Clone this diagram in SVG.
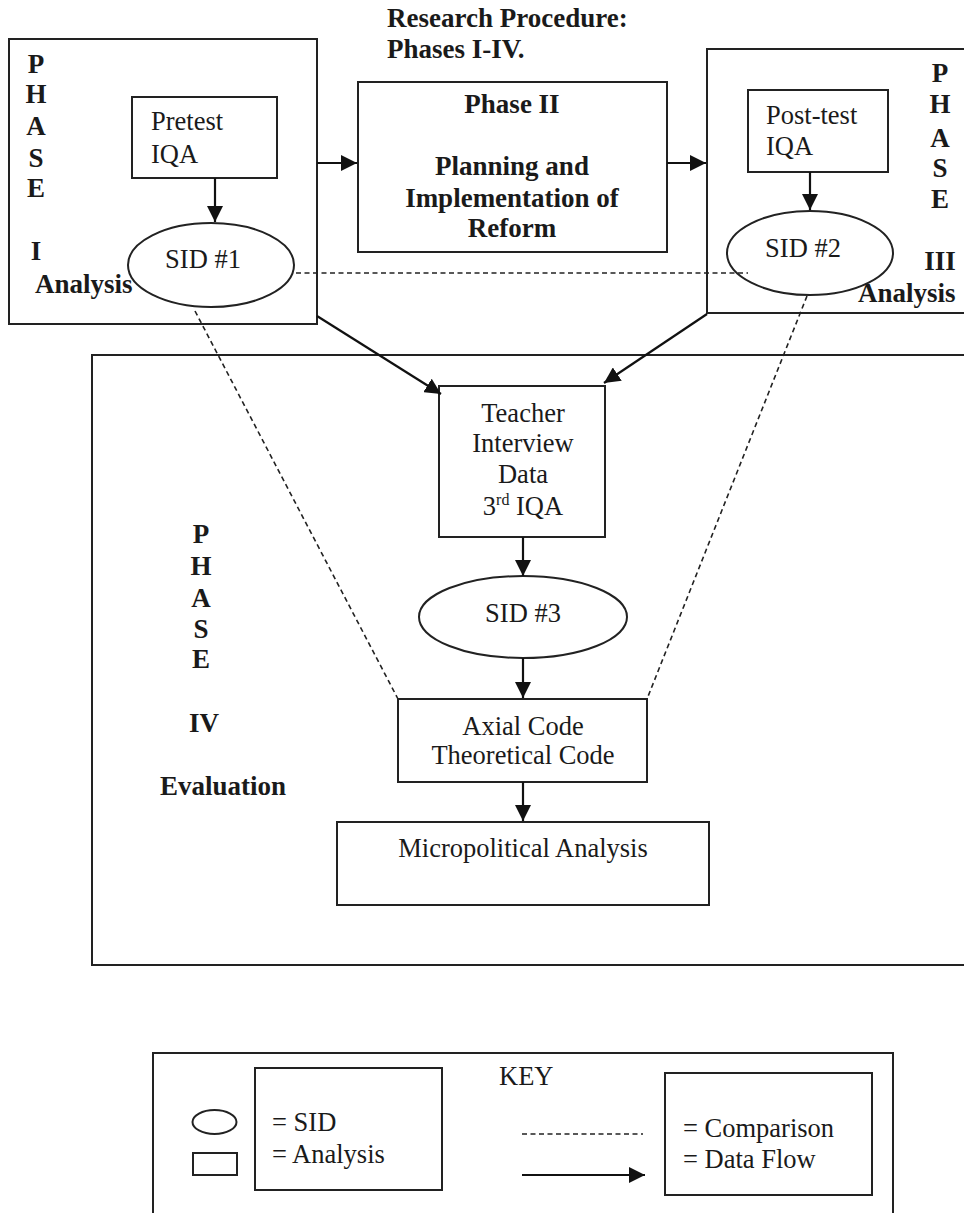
<svg xmlns="http://www.w3.org/2000/svg" width="964" height="1213" viewBox="0 0 964 1213">
<defs>
<marker id="ahb" viewBox="0 0 10 10" refX="10" refY="5" markerWidth="16" markerHeight="16" markerUnits="userSpaceOnUse" orient="auto">
<path d="M0,0 L10,5 L0,10 z" fill="#111"/>
</marker>
<style>
.box{fill:none;stroke:#222;stroke-width:2}
.t{font-family:"Liberation Serif","Times New Roman",serif;font-size:26.5px;fill:#1a1a1a}
.b{font-family:"Liberation Serif","Times New Roman",serif;font-size:27px;font-weight:bold;fill:#1a1a1a}
.m{text-anchor:middle}
.flow{fill:none;stroke:#111;stroke-width:2.2;marker-end:url(#ahb)}
.cmp{fill:none;stroke:#222;stroke-width:1.6;stroke-dasharray:5,3.5}
</style>
</defs>
<rect width="964" height="1213" fill="#fff"/>

<g id="title">
<text class="b" x="387" y="27">Research Procedure:</text>
<text class="b" x="387" y="58">Phases I-IV.</text>
</g>

<g id="phase1">
<rect class="box" x="9" y="39" width="308" height="285"/>
<text class="b m" x="36" y="73">P</text>
<text class="b m" x="36" y="103">H</text>
<text class="b m" x="36" y="135">A</text>
<text class="b m" x="36" y="167">S</text>
<text class="b m" x="36" y="197">E</text>
<text class="b m" x="36" y="260">I</text>
<text class="b" x="35" y="293">Analysis</text>
</g>

<g id="pretest">
<rect class="box" x="132" y="97" width="145" height="81"/>
<text class="t" x="151" y="130">Pretest</text>
<text class="t" x="151" y="163">IQA</text>
</g>

<g id="sid1">
<ellipse class="box" cx="211" cy="265" rx="83" ry="42" fill="#fff"/>
<text class="t m" x="203" y="268">SID #1</text>
</g>

<g id="phase2">
<rect class="box" x="358" y="82" width="309" height="170"/>
<text class="b m" x="512" y="113">Phase II</text>
<text class="b m" x="512" y="175">Planning and</text>
<text class="b m" x="512" y="207">Implementation of</text>
<text class="b m" x="512" y="237">Reform</text>
</g>

<g id="phase3">
<rect class="box" x="707" y="49" width="280" height="264"/>
<text class="b m" x="940" y="82">P</text>
<text class="b m" x="940" y="113">H</text>
<text class="b m" x="940" y="147">A</text>
<text class="b m" x="940" y="177">S</text>
<text class="b m" x="940" y="208">E</text>
<text class="b m" x="940" y="270">III</text>
<text class="b" x="858" y="302">Analysis</text>
</g>

<g id="posttest">
<rect class="box" x="748" y="90" width="140" height="82"/>
<text class="t" x="766" y="124">Post-test</text>
<text class="t" x="766" y="155">IQA</text>
</g>

<g id="sid2">
<ellipse class="box" cx="810" cy="253" rx="83" ry="42" fill="#fff"/>
<text class="t m" x="803" y="257">SID #2</text>
</g>

<g id="phase4">
<rect class="box" x="92" y="355" width="900" height="610"/>
<text class="b m" x="201" y="543">P</text>
<text class="b m" x="201" y="575">H</text>
<text class="b m" x="201" y="607">A</text>
<text class="b m" x="201" y="638">S</text>
<text class="b m" x="201" y="668">E</text>
<text class="b m" x="204" y="732">IV</text>
<text class="b" x="160" y="795">Evaluation</text>
</g>

<g id="teacher">
<rect class="box" x="439" y="386" width="166" height="151"/>
<text class="t m" x="523" y="422">Teacher</text>
<text class="t m" x="523" y="452">Interview</text>
<text class="t m" x="523" y="483">Data</text>
<text class="t m" x="523" y="515">3<tspan font-size="16" dy="-10">rd</tspan><tspan dy="10"> IQA</tspan></text>
</g>

<g id="sid3">
<ellipse class="box" cx="523" cy="617" rx="104" ry="41"/>
<text class="t m" x="523" y="622">SID #3</text>
</g>

<g id="axial">
<rect class="box" x="398" y="699" width="249" height="83"/>
<text class="t m" x="523" y="735">Axial Code</text>
<text class="t m" x="523" y="764">Theoretical Code</text>
</g>

<g id="micro">
<rect class="box" x="337" y="822" width="372" height="83"/>
<text class="t m" x="523" y="857">Micropolitical Analysis</text>
</g>

<g id="connectors">
<line class="flow" x1="317" y1="163" x2="357" y2="163"/>
<line class="flow" x1="667" y1="163" x2="706" y2="163"/>
<line class="flow" x1="215" y1="178" x2="215" y2="222"/>
<line class="flow" x1="810" y1="172" x2="810" y2="210"/>
<line class="flow" x1="317" y1="316" x2="441" y2="394"/>
<line class="flow" x1="707" y1="314" x2="604" y2="383"/>
<line class="flow" x1="523" y1="537" x2="523" y2="576"/>
<line class="flow" x1="523" y1="658" x2="523" y2="698"/>
<line class="flow" x1="523" y1="782" x2="523" y2="821"/>
<line class="cmp" x1="296" y1="273" x2="748" y2="273"/>
<line class="cmp" x1="195" y1="311" x2="398" y2="699"/>
<line class="cmp" x1="807" y1="296" x2="647" y2="699"/>
</g>

<g id="key">
<rect class="box" x="153" y="1053" width="740" height="175"/>
<rect class="box" x="255" y="1068" width="187" height="122"/>
<rect class="box" x="665" y="1073" width="207" height="122"/>
<ellipse class="box" cx="214.5" cy="1122" rx="22" ry="12"/>
<rect class="box" x="193" y="1153" width="44" height="22"/>
<text class="t" x="499" y="1085">KEY</text>
<text class="t" x="272" y="1131">= SID</text>
<text class="t" x="272" y="1163">= Analysis</text>
<line class="cmp" x1="522" y1="1134" x2="643" y2="1134"/>
<line class="flow" x1="522" y1="1175" x2="645" y2="1175"/>
<text class="t" x="683" y="1137">= Comparison</text>
<text class="t" x="683" y="1168">= Data Flow</text>
</g>
</svg>
